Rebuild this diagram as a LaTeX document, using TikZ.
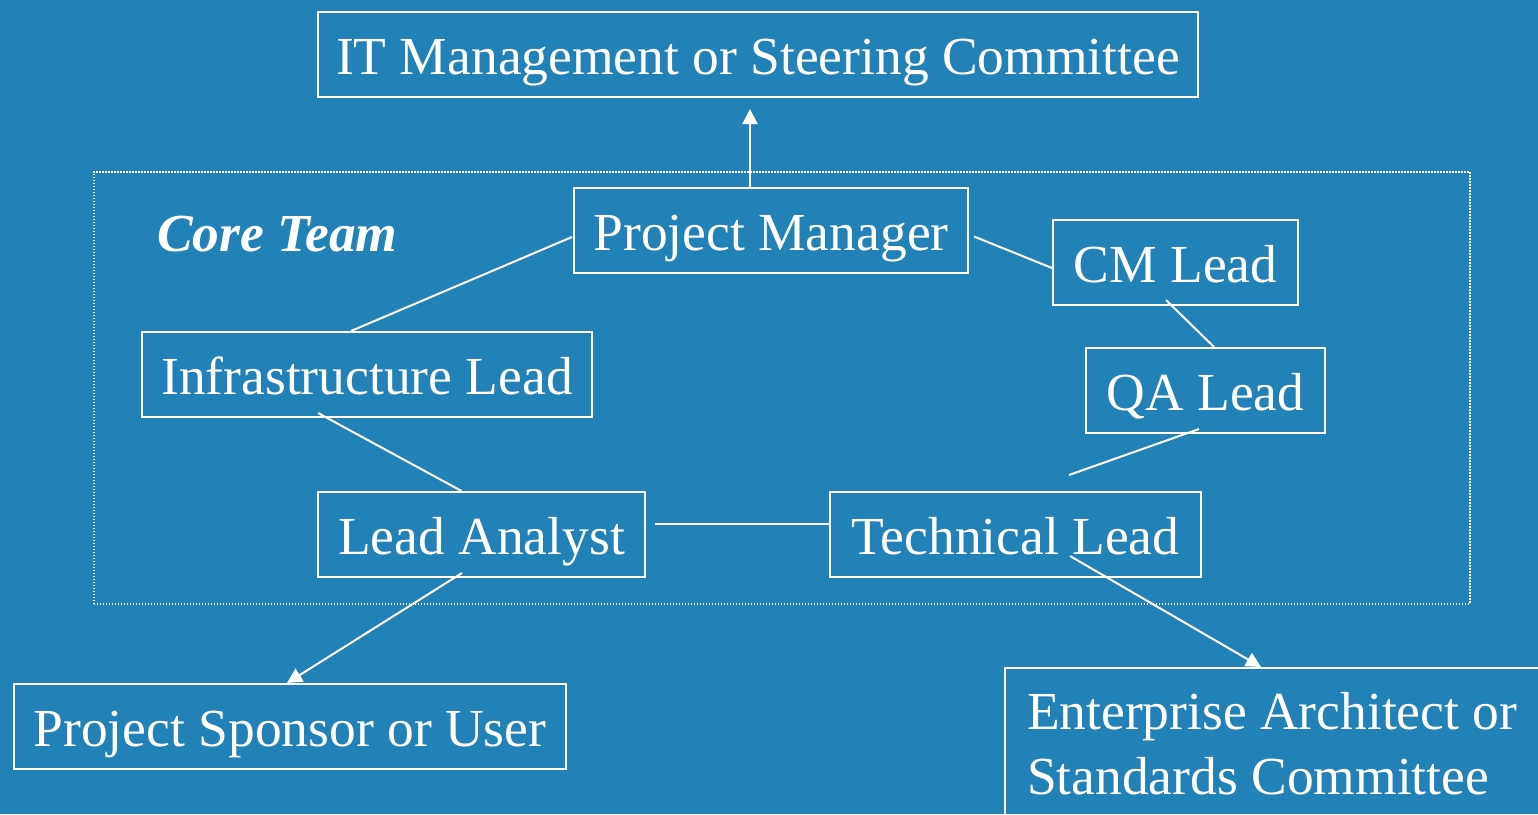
\documentclass[tikz,border=0pt]{standalone}
\usepackage{fontspec}
\setmainfont{Liberation Serif}
\usetikzlibrary{arrows.meta}
\definecolor{bgblue}{RGB}{34,129,183}
\begin{document}
\begin{tikzpicture}[x=1pt,y=-1pt,
  box/.style={draw=white, line width=2pt, text=white, anchor=north west, inner sep=0pt,
    minimum height=85pt, text height=49pt, text depth=10pt,
    font=\fontsize{53.5}{65}\selectfont},
  corebox/.style={draw=white, line width=1.5pt, dash pattern=on 1.5pt off 1.5pt,
    anchor=north west, inner sep=0pt},
  link/.style={draw=white, line width=2pt},
  arr/.style={link, -{Triangle[length=15pt,width=15pt]}}]
\useasboundingbox (0,0) rectangle (1538,814);
\fill[bgblue] (0,0) rectangle (1538,814);
\clip (0,0) rectangle (1538,814);

% core team container
\node[corebox, minimum width=1376pt, minimum height=432pt] (core) at (93,171) {};
\node[anchor=base west, inner sep=0pt, text=white,
  font=\fontsize{53.5}{65}\selectfont\bfseries\itshape] (coretitle) at (157,251) {Core Team};

% boxes
\node[box, minimum width=880pt] (it) at (317,11) {IT Management or Steering Committee};
\node[box, minimum width=394pt] (pm) at (573,187) {Project Manager};
\node[box, minimum width=245pt] (cm) at (1052,219) {CM Lead};
\node[box, minimum width=239pt] (qa) at (1085,347) {QA Lead};
\node[box, minimum width=450pt] (inf) at (141,331) {Infrastructure Lead};
\node[box, minimum width=327pt] (la) at (317,491) {Lead Analyst};
\node[box, minimum width=371pt] (tech) at (829,491) {Technical Lead};
\node[box, minimum width=552pt] (sp) at (13,683) {Project Sponsor or User};
\node[box, text height=, text depth=, inner xsep=22pt, inner ysep=12pt,
  text width=560pt, align=left] (ent) at (1004,667)
  {\spaceskip=0pt\xspaceskip=0pt\relax
   \raisebox{0pt}[49pt][0pt]{Enterprise Architect or}\\
   \raisebox{0pt}[0pt][40pt]{Standards Committee}};

% connectors
\draw[arr] ([xshift=-21pt]pm.north) -- ([shift={(-8,11)}]it.south);
\draw[link] ([shift={(-1,6.5)}]pm.west) -- ([xshift=-16pt]inf.north);
\draw[link] ([shift={(5,6)}]pm.east) -- ([shift={(0,5.5)}]cm.west);
\draw[link] ([shift={(-9.5,-6)}]cm.south) -- ([xshift=8.5pt]qa.north);
\draw[link] ([shift={(-6.5,-5)}]qa.south) -- ([shift={(53.5,-16)}]tech.north);
\draw[link] ([shift={(-49,-5)}]inf.south) -- ([xshift=-20pt]la.north);
\draw[link] ([shift={(9,-10.5)}]la.east) -- ([shift={(0,-10.5)}]tech.west);
\draw[arr] ([shift={(-19.5,-5)}]la.south) -- ([xshift=-3pt]sp.north);
\draw[arr] ([shift={(54.5,-22)}]tech.south) -- ([xshift=257pt]ent.north west);
\end{tikzpicture}
\end{document}
